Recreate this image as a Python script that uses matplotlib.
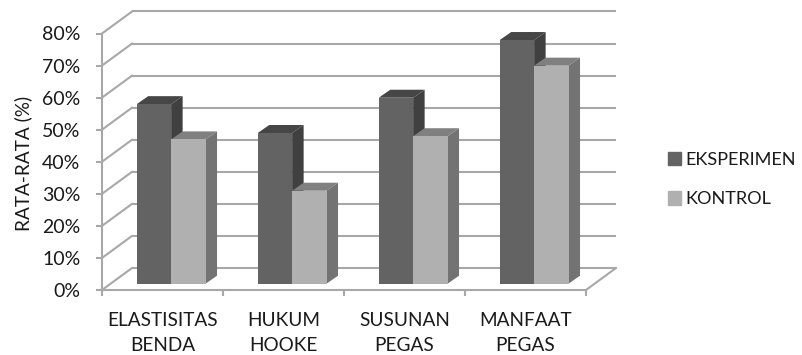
import matplotlib
matplotlib.use('Agg')
import matplotlib.pyplot as plt
from matplotlib.patches import Patch
from matplotlib.ticker import PercentFormatter

categories = ['ELASTISITAS\nBENDA', 'HUKUM\nHOOKE', 'SUSUNAN\nPEGAS', 'MANFAAT\nPEGAS']
eksperimen = [56, 47, 58, 76]
kontrol = [45, 29, 46, 68]
y_ticks = [0, 10, 20, 30, 40, 50, 60, 70, 80]

GRID = '#a8a8a8'
TEXT = '#1a1a1a'
# front, top, side shades of each series
DARK = ('#636363', '#464646', '#404040')
LIGHT = ('#b0b0b0', '#808080', '#737373')

plt.rcParams['font.family'] = ['Lato', 'DejaVu Sans']

W, H = 802, 355
fig = plt.figure(figsize=(W / 100, H / 100), dpi=100)
ax = fig.add_axes([102 / W, (H - 290) / H, 484 / W, 256.5 / H])
ax.set_xlim(0, 4)
ax.set_ylim(0, 80)

# depth of the floor and walls, in data units
wall_dx = 30 / 121
wall_dy = 22 / 3.206


def box(x, width, value, colors, z):
    # box front sits a little way back from the axis plane
    dx0, dy0 = 8.6 / 121, 6.3 / 3.206
    ddx, ddy = 11.5 / 121, 8 / 3.206
    x0 = x + dx0
    x1 = x0 + width
    y0 = dy0
    y1 = dy0 + value
    ax.fill([x0, x1, x1 + ddx, x0 + ddx], [y1, y1, y1 + ddy, y1 + ddy],
            color=colors[1], lw=0, clip_on=False, zorder=z)
    ax.fill([x1, x1 + ddx, x1 + ddx, x1], [y0, y0 + ddy, y1 + ddy, y1],
            color=colors[2], lw=0, clip_on=False, zorder=z)
    ax.fill([x0, x1, x1, x0], [y0, y0, y1, y1],
            color=colors[0], lw=0, clip_on=False, zorder=z + 0.5)


# back wall gridlines and the slanted lines running to the front axis
for t in y_ticks:
    ax.plot([wall_dx, 4 + wall_dx], [t + wall_dy, t + wall_dy], color=GRID, lw=1.5,
            clip_on=False, zorder=1, solid_capstyle='butt')
    ax.plot([0, wall_dx], [t, t + wall_dy], color=GRID, lw=1.5, clip_on=False, zorder=1)
ax.plot([4, 4 + wall_dx], [0, wall_dy], color=GRID, lw=1.5, clip_on=False, zorder=1)

bar_w = 34.4 / 121
for i in range(len(categories)):
    left = i + 0.216
    box(left, bar_w, eksperimen[i], DARK, 3 + i)
    box(left + bar_w, bar_w, kontrol[i], LIGHT, 3.2 + i)

for side in ['top', 'right']:
    ax.spines[side].set_visible(False)
for side in ['left', 'bottom']:
    ax.spines[side].set_color(GRID)
    ax.spines[side].set_linewidth(1.5)
ax.patch.set_alpha(0)

ax.yaxis.set_major_formatter(PercentFormatter(decimals=0))
ax.set_yticks(y_ticks)
ax.set_xticks([0, 1, 2, 3, 4])
ax.set_xticklabels([])
ax.set_xticks([0.5, 1.5, 2.5, 3.5], labels=categories, minor=True)
ax.tick_params(axis='both', which='major', color=GRID, width=1.5, length=4.5)
ax.tick_params(axis='y', labelsize=14, labelcolor=TEXT, pad=11)
ax.tick_params(axis='x', which='minor', length=0, labelsize=13.7, labelcolor=TEXT, pad=16)
for lab in ax.get_xticklabels(minor=True):
    lab.set_linespacing(1.55)

ax.set_ylabel('RATA-RATA (%)', fontsize=13.7, color=TEXT)
ax.yaxis.set_label_coords((23 - 102) / 484, (290 - 163) / 256.5)
ax.yaxis.label.set_verticalalignment('center')

handles = [Patch(color=DARK[0], label='EKSPERIMEN'), Patch(color=LIGHT[0], label='KONTROL')]
fig.legend(handles=handles, loc='center left', bbox_to_anchor=(668 / W, 1 - 179.5 / H), frameon=False,
           fontsize=13.1, labelcolor=TEXT, handlelength=0.74, handleheight=0.74,
           handletextpad=0.2, labelspacing=1.3, borderpad=0, borderaxespad=0)

fig.savefig('out.png', dpi=100)
